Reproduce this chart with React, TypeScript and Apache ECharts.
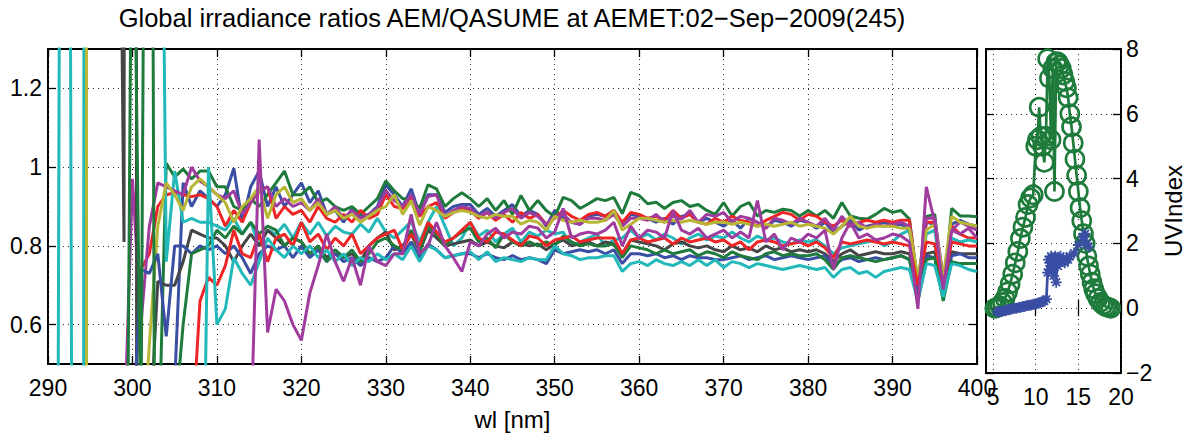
import React, { useEffect, useRef } from "react";
import * as echarts from "echarts";

const N = null;
const FONT = "'Liberation Sans', Arial, Helvetica, sans-serif";
const TITLE = "Global irradiance ratios AEM/QASUME at AEMET:02\u2212Sep\u22122009(245)";

const WL = [
  290, 291, 292, 293, 294, 295, 296, 297, 298, 299,
  300, 301, 302, 303, 304, 305, 306, 307, 308, 309,
  310, 311, 312, 313, 314, 315, 316, 317, 318, 319,
  320, 321, 322, 323, 324, 325, 326, 327, 328, 329,
  330, 331, 332, 333, 334, 335, 336, 337, 338, 339,
  340, 341, 342, 343, 344, 345, 346, 347, 348, 349,
  350, 351, 352, 353, 354, 355, 356, 357, 358, 359,
  360, 361, 362, 363, 364, 365, 366, 367, 368, 369,
  370, 371, 372, 373, 374, 375, 376, 377, 378, 379,
  380, 381, 382, 383, 384, 385, 386, 387, 388, 389,
  390, 391, 392, 393, 394, 395, 396, 397, 398, 399,
  400,
];

const B1 = [
  N, N, N, N, N, N, N, N, N, N,
  N, N, N, N, N, 0.45, 0.96, 0.9, 0.94, 0.92,
  0.9, 0.93, 0.997, 0.86, 0.95, 0.99, 0.9, 0.95, 0.9, 0.93,
  0.96, 0.91, 0.94, 0.88, 0.89, 0.86, 0.895, 0.875, 0.88, 0.9,
  0.955, 0.93, 0.9, 0.945, 0.88, 0.93, 0.93, 0.885, 0.9, 0.905,
  0.905, 0.88, 0.895, 0.875, 0.89, 0.905, 0.875, 0.89, 0.88, 0.85,
  0.89, 0.87, 0.86, 0.855, 0.875, 0.88, 0.875, 0.89, 0.85, 0.88,
  0.875, 0.87, 0.86, 0.87, 0.855, 0.875, 0.88, 0.86, 0.87, 0.86,
  0.85, 0.865, 0.845, 0.87, 0.86, 0.845, 0.865, 0.86, 0.85, 0.865,
  0.86, 0.845, 0.86, 0.835, 0.85, 0.865, 0.84, 0.85, 0.855, 0.86,
  0.85, 0.855, 0.84, 0.7, 0.86, 0.855, 0.7, 0.855, 0.865, 0.855,
  0.85,
];

const G1 = [
  N, N, N, N, N, N, N, N, N, N,
  N, N, N, 0.2, 1.01, 0.975, 0.995, 0.97, 0.99, 0.99,
  0.95, 0.95, 0.9, 0.89, 0.92, 0.9, 0.93, 0.96, 0.99, 0.93,
  0.93, 0.95, 0.91, 0.92, 0.9, 0.89, 0.9, 0.88, 0.9, 0.92,
  0.965, 0.94, 0.92, 0.92, 0.895, 0.955, 0.945, 0.9, 0.92, 0.935,
  0.92, 0.9, 0.92, 0.89, 0.915, 0.88, 0.928, 0.89, 0.915, 0.89,
  0.874, 0.923, 0.915, 0.895, 0.907, 0.92, 0.915, 0.923, 0.882, 0.936,
  0.928, 0.907, 0.911, 0.895, 0.91, 0.915, 0.9, 0.905, 0.89, 0.88,
  0.91, 0.876, 0.9, 0.91, 0.876, 0.89, 0.885, 0.893, 0.89, 0.876,
  0.89, 0.876, 0.89, 0.87, 0.91, 0.876, 0.87, 0.868, 0.88, 0.895,
  0.885, 0.89, 0.868, 0.7, 0.875, 0.88, 0.67, 0.895, 0.876, 0.876,
  0.874,
];

const R1 = [
  N, N, N, N, N, N, N, N, N, N,
  0.3, 0.74, 0.78, 0.9, 0.93, 0.935, 0.93, 0.925, 0.93, 0.92,
  0.9, 0.85, 0.89, 0.86, 0.91, 0.94, 0.95, 0.87, 0.9, 0.88,
  0.89, 0.86, 0.9, 0.87, 0.86, 0.88, 0.86, 0.89, 0.87, 0.88,
  0.93, 0.9, 0.895, 0.92, 0.875, 0.9, 0.91, 0.87, 0.885, 0.895,
  0.89, 0.87, 0.885, 0.865, 0.88, 0.86, 0.885, 0.87, 0.88, 0.855,
  0.87, 0.89, 0.875, 0.865, 0.88, 0.885, 0.875, 0.89, 0.86, 0.885,
  0.88, 0.87, 0.875, 0.865, 0.89, 0.87, 0.88, 0.86, 0.855, 0.87,
  0.86, 0.875, 0.865, 0.86, 0.85, 0.865, 0.875, 0.885, 0.88, 0.865,
  0.88, 0.875, 0.86, 0.85, 0.865, 0.85, 0.86, 0.865, 0.86, 0.865,
  0.86, 0.865, 0.865, 0.7, 0.86, 0.86, 0.69, 0.85, 0.83, 0.82,
  0.82,
];

const C1 = [
  -1, -1, 6, -1, -5, 20, 3, 3, 3, 3,
  3, 3, 3, 3, 0.76, 0.99, 0.86, 0.87, 0.86, 0.86,
  0.85, 0.84, 0.87, 0.83, 0.86, 0.8, 0.84, 0.83, 0.855, 0.82,
  0.86, 0.83, 0.86, 0.825, 0.85, 0.835, 0.83, 0.855, 0.835, 0.87,
  0.835, 0.82, 0.84, 0.862, 0.81, 0.86, 0.9, 0.85, 0.8, 0.82,
  0.86, 0.825, 0.84, 0.81, 0.83, 0.845, 0.81, 0.835, 0.825, 0.84,
  0.83, 0.835, 0.8, 0.81, 0.82, 0.83, 0.8, 0.815, 0.82, 0.84,
  0.82, 0.83, 0.815, 0.83, 0.82, 0.805, 0.82, 0.83, 0.815, 0.825,
  0.82, 0.835, 0.82, 0.81, 0.825, 0.815, 0.82, 0.81, 0.805, 0.815,
  0.81, 0.815, 0.8, 0.78, 0.795, 0.8, 0.805, 0.81, 0.815, 0.8,
  0.81, 0.83, 0.84, 0.7, 0.83, 0.84, 0.69, 0.82, 0.81, 0.815,
  0.81,
];

const M1 = [
  N, N, N, N, N, N, N, N, N, 0.3,
  0.97, 0.6, 0.85, 0.96, 0.95, 0.94, 0.93, 1.0, 0.965, 0.95,
  0.93, 0.92, 0.94, 0.88, 0.91, 0.94, 0.95, 0.9, 0.92, 0.9,
  0.91, 0.89, 0.92, 0.88, 0.9, 0.87, 0.89, 0.87, 0.88, 0.895,
  0.94, 0.915, 0.9, 0.93, 0.88, 0.925, 0.93, 0.875, 0.89, 0.9,
  0.895, 0.875, 0.885, 0.87, 0.885, 0.895, 0.87, 0.885, 0.875, 0.855,
  0.875, 0.88, 0.86, 0.855, 0.87, 0.87, 0.865, 0.88, 0.85, 0.87,
  0.87, 0.865, 0.88, 0.86, 0.875, 0.868, 0.89, 0.86, 0.88, 0.875,
  0.885, 0.86, 0.875, 0.87, 0.86, 0.845, 0.87, 0.865, 0.855, 0.87,
  0.86, 0.85, 0.87, 0.84, 0.875, 0.85, 0.86, 0.845, 0.855, 0.85,
  0.855, 0.86, 0.85, 0.68, 0.87, 0.87, 0.72, 0.84, 0.86, 0.85,
  0.84,
];

const Y1 = [
  N, N, N, N, 40, -30, N, N, N, N,
  N, 0.2, 0.55, 0.85, 0.96, 0.93, 0.89, 0.95, 0.97, 0.95,
  0.93, 0.91, 0.86, 0.9, 0.92, 0.95, 0.87, 0.93, 0.95, 0.91,
  0.92, 0.89, 0.91, 0.88, 0.89, 0.87, 0.88, 0.86, 0.875, 0.89,
  0.9, 0.93, 0.88, 0.915, 0.853, 0.9, 0.89, 0.875, 0.885, 0.89,
  0.885, 0.875, 0.87, 0.88, 0.875, 0.875, 0.855, 0.865, 0.86, 0.84,
  0.875, 0.865, 0.86, 0.865, 0.86, 0.86, 0.865, 0.89, 0.84, 0.855,
  0.87, 0.87, 0.865, 0.86, 0.865, 0.86, 0.865, 0.86, 0.855, 0.86,
  0.86, 0.855, 0.86, 0.855, 0.85, 0.855, 0.85, 0.855, 0.86, 0.85,
  0.855, 0.85, 0.845, 0.83, 0.85, 0.875, 0.85, 0.845, 0.85, 0.85,
  0.85, 0.845, 0.845, 0.72, 0.84, 0.855, 0.72, 0.875, 0.86, 0.855,
  0.85,
];

const K1 = [
  N, N, N, N, N, N, N, N, 3, 0.81,
  25, -25, 0.3, 0.71, 0.7, 0.7, 0.76, 0.84, 0.83, 0.82,
  0.82, 0.8, 0.76, 0.8, 0.83, 0.8, 0.84, 0.82, 0.8, 0.82,
  0.81, 0.78, 0.8, 0.77, 0.79, 0.77, 0.78, 0.76, 0.8, 0.82,
  0.835, 0.79, 0.8, 0.83, 0.785, 0.84, 0.82, 0.8, 0.805, 0.81,
  0.815, 0.8, 0.81, 0.8, 0.795, 0.81, 0.805, 0.8, 0.805, 0.79,
  0.805, 0.815, 0.8, 0.805, 0.81, 0.8, 0.81, 0.805, 0.78, 0.815,
  0.81, 0.805, 0.8, 0.79, 0.805, 0.81, 0.8, 0.795, 0.8, 0.79,
  0.785, 0.8, 0.79, 0.795, 0.785, 0.8, 0.79, 0.795, 0.785, 0.79,
  0.785, 0.79, 0.78, 0.76, 0.78, 0.79, 0.775, 0.78, 0.785, 0.78,
  0.78, 0.785, 0.78, 0.68, 0.78, 0.785, 0.68, 0.785, 0.78, 0.78,
  0.78,
];

const B2 = [
  N, N, N, N, N, N, N, N, N, N,
  0.3, 0.74, 0.73, 0.78, 0.57, 0.8, 0.8, 0.78, 0.8, 0.79,
  0.8, 0.78, 0.8, 0.77, 0.73, 0.78, 0.8, 0.79, 0.8, 0.77,
  0.8, 0.77, 0.79, 0.76, 0.78, 0.76, 0.77, 0.75, 0.77, 0.76,
  0.77, 0.8, 0.78, 0.81, 0.77, 0.805, 0.79, 0.77, 0.775, 0.78,
  0.78, 0.77, 0.78, 0.77, 0.765, 0.775, 0.765, 0.77, 0.765, 0.755,
  0.79, 0.78, 0.785, 0.79, 0.785, 0.79, 0.78, 0.79, 0.755, 0.78,
  0.78, 0.775, 0.78, 0.77, 0.775, 0.765, 0.775, 0.77, 0.77, 0.765,
  0.765, 0.77, 0.775, 0.765, 0.77, 0.775, 0.765, 0.77, 0.775, 0.77,
  0.765, 0.77, 0.775, 0.75, 0.765, 0.77, 0.76, 0.765, 0.77, 0.765,
  0.77, 0.775, 0.765, 0.68, 0.775, 0.77, 0.67, 0.775, 0.78, 0.77,
  0.77,
];

const G2 = [
  N, N, N, N, N, N, N, N, N, -1,
  2, 0.3, 4, -2, 0.3, 0.35, 0.6, 0.78, 0.79, 0.8,
  0.84, 0.82, 0.85, 0.83, 0.86, 0.83, 0.85, 0.84, 0.8, 0.82,
  0.81, 0.78, 0.8, 0.76, 0.79, 0.77, 0.79, 0.76, 0.78, 0.81,
  0.82, 0.8, 0.79, 0.84, 0.785, 0.85, 0.83, 0.8, 0.82, 0.835,
  0.845, 0.81, 0.82, 0.795, 0.83, 0.81, 0.8, 0.81, 0.8, 0.81,
  0.8, 0.825, 0.81, 0.8, 0.805, 0.8, 0.8, 0.805, 0.77, 0.8,
  0.795, 0.79, 0.78, 0.79, 0.78, 0.785, 0.79, 0.775, 0.785, 0.78,
  0.77, 0.785, 0.775, 0.77, 0.765, 0.78, 0.785, 0.775, 0.78, 0.775,
  0.775, 0.78, 0.765, 0.74, 0.77, 0.775, 0.77, 0.765, 0.76, 0.765,
  0.77, 0.775, 0.765, 0.66, 0.765, 0.77, 0.66, 0.76, 0.755, 0.755,
  0.755,
];

const R2 = [
  N, N, N, N, N, N, N, N, N, N,
  N, N, N, N, N, N, N, 0.3, 0.66, 0.72,
  0.7, 0.75, 0.84, 0.78, 0.77, 0.83, 0.76, 0.82, 0.83, 0.8,
  0.86, 0.81, 0.83, 0.79, 0.82, 0.8, 0.83, 0.78, 0.8, 0.82,
  0.83, 0.84, 0.79, 0.83, 0.8, 0.86, 0.835, 0.81, 0.82, 0.84,
  0.86, 0.82, 0.81, 0.835, 0.83, 0.815, 0.8, 0.825, 0.82, 0.8,
  0.815, 0.82, 0.825, 0.81, 0.815, 0.82, 0.82, 0.82, 0.78, 0.815,
  0.82, 0.81, 0.815, 0.82, 0.805, 0.82, 0.81, 0.815, 0.82, 0.81,
  0.815, 0.8, 0.81, 0.79, 0.81, 0.815, 0.81, 0.8, 0.805, 0.81,
  0.8, 0.81, 0.795, 0.77, 0.81, 0.805, 0.81, 0.815, 0.81, 0.805,
  0.81, 0.805, 0.8, 0.7, 0.81, 0.805, 0.7, 0.81, 0.805, 0.8,
  0.8,
];

const C2 = [
  N, N, N, N, N, N, N, N, N, N,
  N, N, N, N, N, N, N, N, -0.5, 1.0,
  0.6, 0.64, 0.77, 0.73, 0.7, 0.76, 0.82, 0.79, 0.77, 0.8,
  0.78, 0.8, 0.77, 0.79, 0.76, 0.78, 0.75, 0.77, 0.76, 0.78,
  0.765, 0.78, 0.765, 0.8, 0.76, 0.8, 0.79, 0.77, 0.775, 0.78,
  0.785, 0.765, 0.785, 0.76, 0.77, 0.765, 0.76, 0.77, 0.765, 0.765,
  0.8, 0.78, 0.775, 0.765, 0.77, 0.77, 0.775, 0.775, 0.735, 0.755,
  0.76, 0.75, 0.765, 0.755, 0.75, 0.76, 0.75, 0.765, 0.75, 0.765,
  0.745, 0.76, 0.755, 0.745, 0.755, 0.75, 0.745, 0.74, 0.745, 0.75,
  0.745, 0.74, 0.745, 0.72, 0.74, 0.745, 0.73, 0.735, 0.72, 0.735,
  0.74, 0.745, 0.74, 0.66, 0.755, 0.75, 0.67, 0.755, 0.75, 0.74,
  0.735,
];

const M2 = [
  N, N, N, N, N, N, N, N, N, N,
  N, N, N, N, N, N, N, N, N, N,
  N, N, N, N, 0.3, 1.07, 0.58, 0.69, 0.66, 0.6,
  0.56, 0.68, 0.75, 0.83, 0.76, 0.71, 0.77, 0.7, 0.8, 0.76,
  0.75, 0.78, 0.78, 0.88, 0.78, 0.8, 0.86, 0.8, 0.77, 0.735,
  0.81, 0.8, 0.83, 0.845, 0.82, 0.835, 0.83, 0.85, 0.845, 0.82,
  0.835, 0.895, 0.82, 0.83, 0.835, 0.83, 0.84, 0.86, 0.8, 0.85,
  0.82, 0.84, 0.835, 0.82, 0.89, 0.84, 0.83, 0.845, 0.82, 0.83,
  0.84, 0.82, 0.835, 0.82, 0.915, 0.81, 0.83, 0.79, 0.82, 0.81,
  0.83, 0.82, 0.84, 0.74, 0.82, 0.86, 0.82, 0.83, 0.815, 0.82,
  0.83, 0.825, 0.81, 0.64, 0.95, 0.86, 0.69, 0.84, 0.83, 0.845,
  0.82,
];

// UV index panel
const T_QASUME = [
  5.2, 5.5, 5.8, 6.1, 6.4, 6.7, 7.0, 7.3, 7.6, 7.9, 8.2, 8.5, 8.8, 9.1, 9.4, 9.7, 10.0,
  10.2, 10.4, 10.6, 10.8, 11.0, 11.2, 11.4, 11.6, 11.8, 12.0, 12.2, 12.4, 12.6, 12.8, 13.0,
  13.2, 13.4, 13.6, 13.8, 14.0, 14.2, 14.4, 14.6, 14.8, 15.0, 15.2, 15.4, 15.6, 15.8, 16.0,
  16.2, 16.4, 16.6, 16.8, 17.0, 17.3, 17.6, 17.9, 18.2, 18.5, 18.8,
];
const UV_QASUME = [
  0.0, 0.02, 0.08, 0.18, 0.3, 0.5, 0.75, 1.05, 1.4, 1.75, 2.15, 2.5, 2.8, 3.2, 3.4, 3.5, 5.0,
  5.2, 6.2, 5.3, 5.0, 4.5, 5.3, 7.7, 7.1, 5.2, 7.4, 3.6, 7.6, 7.6, 7.5, 7.4,
  7.2, 7.0, 6.8, 6.5, 6.0, 5.6, 5.1, 4.6, 4.1, 3.6, 3.1, 2.7, 2.3, 2.0, 1.6,
  1.3, 1.05, 0.8, 0.6, 0.45, 0.3, 0.18, 0.1, 0.05, 0.02, 0.0,
];
const T_AEM = [
  5.5, 5.75, 6.0, 6.25, 6.5, 6.75, 7.0, 7.25, 7.5, 7.75, 8.0, 8.25, 8.5, 8.75, 9.0, 9.25,
  9.5, 9.75, 10.0, 10.25, 10.5, 10.75, 11.0, 11.25,
  11.4, 11.5, 11.6, 11.7, 11.8, 11.9, 12.0, 12.1, 12.2, 12.3, 12.4, 12.5, 12.6, 12.7, 12.8,
  12.9, 13.0, 13.2, 13.4, 13.6, 13.8, 14.0, 14.5, 15.0, 15.5, 15.8, 16.0, 16.2,
];
const UV_AEM = [
  -0.12, -0.1, -0.1, -0.08, -0.07, -0.05, -0.04, -0.02, 0.0, 0.0, 0.02, 0.03, 0.05, 0.06, 0.08, 0.09,
  0.1, 0.12, 0.13, 0.15, 0.17, 0.2, 0.22, 0.28,
  1.1, 1.5, 1.2, 1.4, 1.6, 1.3, 1.5, 1.0, 1.4, 1.6, 0.8, 1.5, 1.3, 1.55, 1.4,
  1.6, 1.45, 1.5, 1.4, 1.55, 1.5, 1.6, 1.7, 1.95, 2.2, 2.3, 2.0, 1.9,
];

const Y_TICKS = [0.6, 0.8, 1, 1.2];
const UV_X_TICKS = [5, 10, 15, 20];

const COL = {
  blue: "#3a4ea4",
  green: "#1e7b3b",
  red: "#ee2526",
  cyan: "#23b8b9",
  magenta: "#a13c9f",
  yellow: "#b8b635",
  grey: "#454545",
};

const RATIO_SERIES: [string, (number | null)[], string][] = [
  ["B1", B1, COL.blue],
  ["G1", G1, COL.green],
  ["R1", R1, COL.red],
  ["C1", C1, COL.cyan],
  ["M1", M1, COL.magenta],
  ["Y1", Y1, COL.yellow],
  ["K1", K1, COL.grey],
  ["B2", B2, COL.blue],
  ["G2", G2, COL.green],
  ["R2", R2, COL.red],
  ["C2", C2, COL.cyan],
  ["M2", M2, COL.magenta],
];

const GRID_LINE = { color: "#2a2a2a", width: 1, type: [1, 4] as number[] };
const TICK = { inside: true, length: 8, lineStyle: { color: "#000", width: 1.3 } };
const LABEL = { color: "#000", fontSize: 23, fontFamily: FONT };

export default function App() {
  const ref = useRef<HTMLDivElement>(null);
  useEffect(() => {
    if (!ref.current) return;
    const chart = echarts.init(ref.current, null, { renderer: "svg" });
    const asterisk =
      "path://M5,0L5,10M0,5L10,5M1.5,1.5L8.5,8.5M1.5,8.5L8.5,1.5";
    const option: any = {
      animation: false,
      backgroundColor: "#fff",
      graphic: [
        {
          type: "text",
          x: 512,
          y: 5,
          style: {
            text: TITLE,
            fill: "#000",
            fontSize: 25.5,
            fontFamily: FONT,
            align: "center",
            textAlign: "center",
            verticalAlign: "top",
            textVerticalAlign: "top",
          },
        },
      ],
      grid: [
        { left: 48, top: 49, width: 929, height: 324, show: true, borderColor: "#000", borderWidth: 2, backgroundColor: "transparent" },
        { left: 986, top: 49, width: 135, height: 324, show: true, borderColor: "#000", borderWidth: 2, backgroundColor: "transparent" },
      ],
      xAxis: [
        {
          gridIndex: 0, type: "value", min: 290, max: 400, interval: 10, position: "bottom",
          axisLine: { show: false }, axisTick: TICK,
          axisLabel: { ...LABEL, margin: 12, showMaxLabel: true, showMinLabel: true },
          splitLine: { show: true, lineStyle: GRID_LINE },
          name: "wl [nm]", nameLocation: "middle", nameGap: 43,
          nameTextStyle: { color: "#000", fontSize: 24, fontFamily: FONT },
        },
        {
          gridIndex: 0, type: "value", min: 290, max: 400, interval: 10, position: "top",
          axisLine: { show: false }, axisTick: TICK, axisLabel: { show: false }, splitLine: { show: false },
        },
        {
          gridIndex: 1, type: "value", min: 4.17, max: 20, position: "bottom",
          axisLine: { show: false },
          axisTick: { ...TICK, customValues: UV_X_TICKS },
          axisLabel: { ...LABEL, margin: 12, customValues: UV_X_TICKS },
          splitLine: { show: true, lineStyle: GRID_LINE },
        },
        {
          gridIndex: 1, type: "value", min: 4.17, max: 20, position: "top",
          axisLine: { show: false },
          axisTick: { ...TICK, customValues: UV_X_TICKS },
          axisLabel: { show: false, customValues: UV_X_TICKS }, splitLine: { show: false },
        },
      ],
      yAxis: [
        {
          gridIndex: 0, type: "value", min: 0.5, max: 1.3, position: "left",
          axisLine: { show: false },
          axisTick: { ...TICK, customValues: Y_TICKS },
          axisLabel: { ...LABEL, margin: 6, customValues: Y_TICKS },
          splitLine: { show: true, lineStyle: GRID_LINE },
        },
        {
          gridIndex: 0, type: "value", min: 0.5, max: 1.3, position: "right",
          axisLine: { show: false },
          axisTick: { ...TICK, customValues: Y_TICKS },
          axisLabel: { show: false, customValues: Y_TICKS }, splitLine: { show: false },
        },
        {
          gridIndex: 1, type: "value", min: -2, max: 8, interval: 2, position: "right",
          axisLine: { show: false }, axisTick: TICK,
          axisLabel: { ...LABEL, margin: 5, formatter: (v: number) => String(v).replace("-", "\u2212") },
          splitLine: { show: true, lineStyle: GRID_LINE },
          name: "UVIndex", nameLocation: "middle", nameRotate: 90, nameGap: 40,
          nameTextStyle: { color: "#000", fontSize: 24, fontFamily: FONT },
        },
        {
          gridIndex: 1, type: "value", min: -2, max: 8, interval: 2, position: "left",
          axisLine: { show: false }, axisTick: TICK, axisLabel: { show: false }, splitLine: { show: false },
        },
      ],
      series: [
        ...RATIO_SERIES.map(([name, vals, color]) => ({
          type: "line",
          name,
          xAxisIndex: 0,
          yAxisIndex: 0,
          data: WL.map((w, i) => [w, vals[i] == null ? "-" : vals[i]]),
          symbol: "none",
          showSymbol: false,
          connectNulls: false,
          clip: true,
          silent: true,
          lineStyle: { color, width: 3 },
          itemStyle: { color },
        })),
        {
          type: "line",
          name: "QASUME",
          xAxisIndex: 2,
          yAxisIndex: 2,
          data: T_QASUME.map((t, i) => [t, UV_QASUME[i]]),
          symbol: "circle",
          symbolSize: 18,
          showSymbol: true,
          clip: true,
          silent: true,
          lineStyle: { color: COL.green, width: 2.7 },
          itemStyle: { color: "rgba(0,0,0,0)", borderColor: COL.green, borderWidth: 2.7 },
        },
        {
          type: "line",
          name: "AEM",
          xAxisIndex: 2,
          yAxisIndex: 2,
          data: T_AEM.map((t, i) => [t, UV_AEM[i]]),
          symbol: asterisk,
          symbolSize: 11,
          showSymbol: true,
          clip: true,
          silent: true,
          lineStyle: { color: COL.blue, width: 2.7 },
          itemStyle: { color: COL.blue, borderColor: COL.blue, borderWidth: 1.8 },
        },
      ],
    };
    chart.setOption(option);
    return () => chart.dispose();
  }, []);
  return (
    <div
      ref={ref}
      style={{ position: "absolute", left: 0, top: 0, width: 1194, height: 436, background: "#fff" }}
    />
  );
}
